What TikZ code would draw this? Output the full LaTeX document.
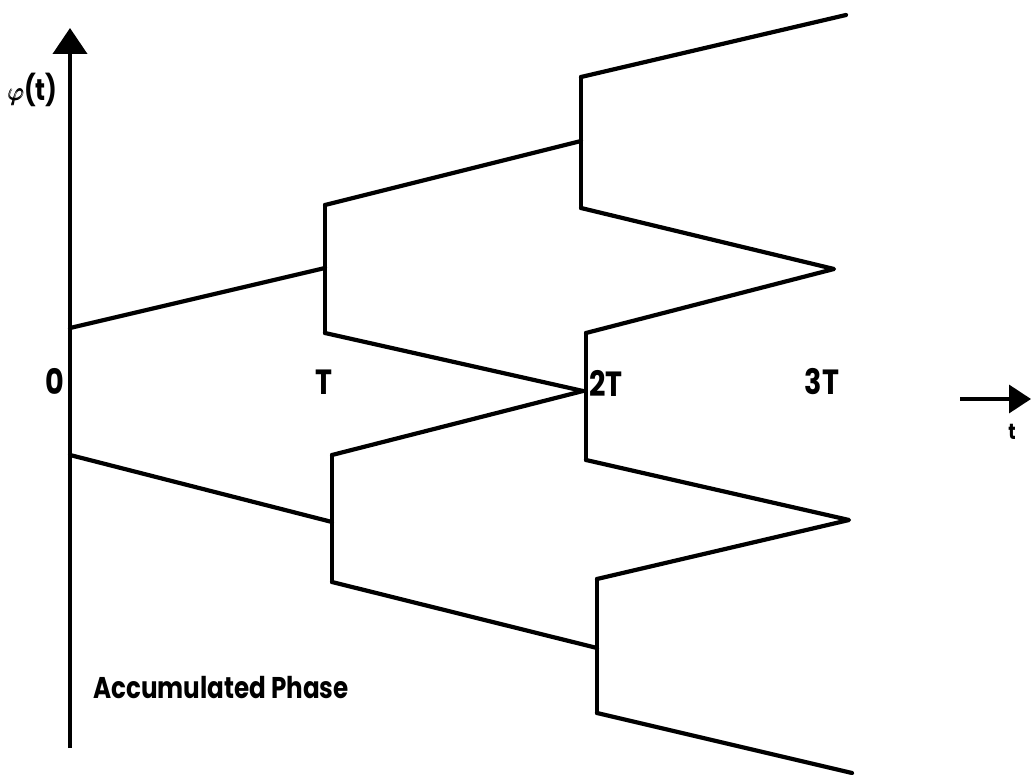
\documentclass[tikz,border=0pt]{standalone}
\usepackage{amsmath}
\usepackage{fontspec}
\newfontfamily\labfont{Poppins}[FakeStretch=0.82]
\usetikzlibrary{arrows.meta}
\begin{document}
\begin{tikzpicture}[x=1pt,y=-1pt,
  curve/.style={line width=4.2pt, line join=round, line cap=round},
  axisline/.style={line width=4pt},
  ticklabel/.style={inner sep=0pt, font=\labfont\bfseries\fontsize{35}{38}\selectfont},
  caption/.style={inner sep=0pt, anchor=west, font=\labfont\fontsize{30}{33}\selectfont\bfseries}]
\useasboundingbox (0,0) rectangle (1031,775);

% axes
\coordinate (yb) at (70,748);
\coordinate (yt) at (70,28);
\coordinate (xa) at (960,399);
\coordinate (xb) at (1031,399);
\draw[axisline, -{Triangle[length=26pt,width=34pt]}] (yb) -- (yt);
\draw[line width=3.5pt, -{Triangle[length=22pt,width=28pt]}] (xa) -- (xb);

% upper half of the phase tree
\coordinate (a0) at (70,328);
\coordinate (a1) at (325,268);
\coordinate (t1t) at (325,205);
\coordinate (t1b) at (325,333);
\coordinate (b1) at (581,141);
\coordinate (s1t) at (581,77);
\coordinate (s1b) at (581,208);
\coordinate (e1) at (846,15);
\coordinate (p1) at (834,269);
\coordinate (mid) at (583,391);
\coordinate (s2t) at (586,333);
\coordinate (s2b) at (586,460);

% lower half of the phase tree
\coordinate (c0) at (70,455);
\coordinate (c1) at (332,522);
\coordinate (t2t) at (332,455);
\coordinate (t2b) at (332,582);
\coordinate (p2) at (849,520);
\coordinate (s3t) at (597,579);
\coordinate (d1) at (597,648);
\coordinate (s3b) at (597,713);
\coordinate (e2) at (852,773);

\draw[curve] (a0) -- (a1);
\draw[curve] (t1t) -- (t1b);
\draw[curve] (t1t) -- (b1);
\draw[curve] (t1b) -- (mid);
\draw[curve] (s1t) -- (s1b);
\draw[curve] (s1t) -- (e1);
\draw[curve] (s1b) -- (p1) -- (s2t);
\draw[curve] (s2t) -- (s2b);
\draw[curve] (s2b) -- (p2) -- (s3t);

\draw[curve] (c0) -- (c1);
\draw[curve] (t2t) -- (t2b);
\draw[curve] (t2t) -- (mid);
\draw[curve] (t2b) -- (d1);
\draw[curve] (s3t) -- (s3b);
\draw[curve] (s3b) -- (e2);

% labels
\node[ticklabel] (l0) at (55,381) {0};
\node[ticklabel] (lT) at (324,382) {T};
\node[ticklabel] (l2T) at (606,383) {2T};
\node[ticklabel] (l3T) at (822,382) {3T};
\node[inner sep=0pt, font=\labfont\bfseries\fontsize{22}{24}\selectfont] (lt) at (1012,432) {t};
\node[inner sep=0pt, font=\labfont\bfseries\fontsize{30}{32}\selectfont] (lphi) at (33,90) {$\pmb{\varphi}$(t)};
\node[caption] (cap) at (93,688) {Accumulated Phase};
\end{tikzpicture}
\end{document}
